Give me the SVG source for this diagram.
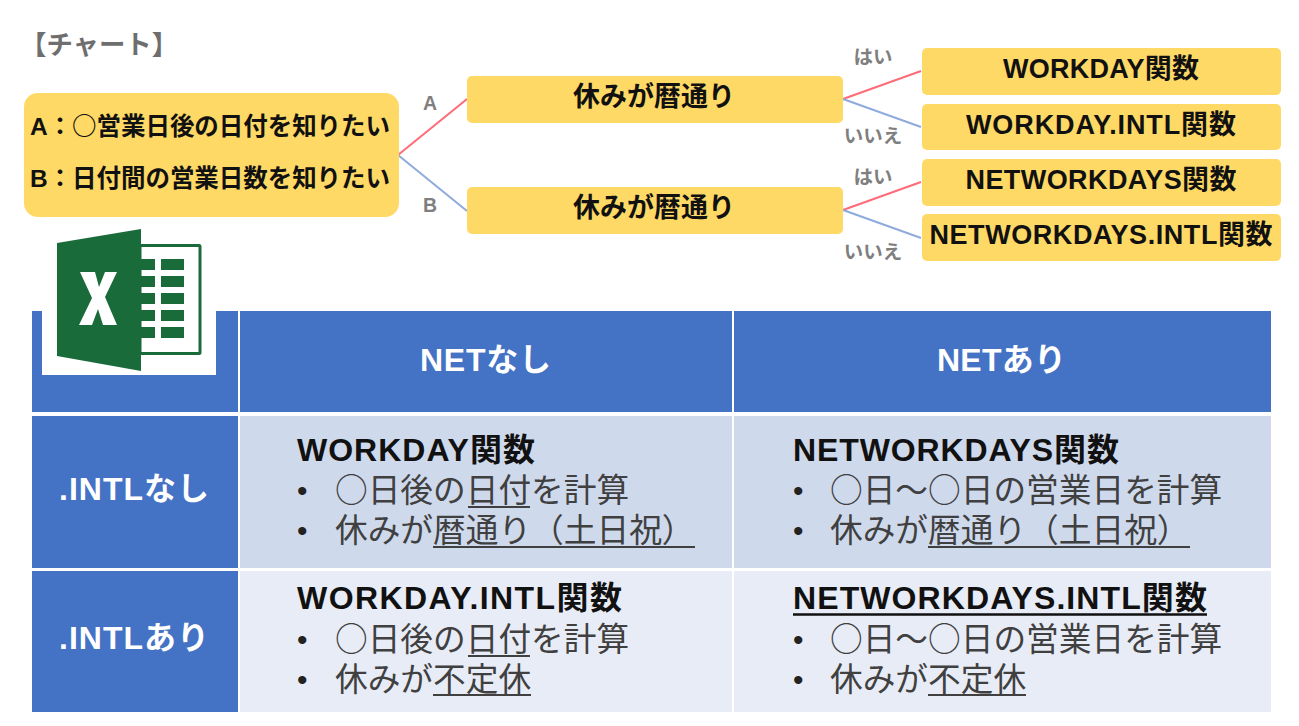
<svg xmlns="http://www.w3.org/2000/svg" width="1299" height="726" viewBox="0 0 1299 726">
<style>
text{font-family:"Liberation Sans","Noto Sans CJK JP",sans-serif;}
.j{font-family:"Noto Sans CJK JP",sans-serif;}
.b{fill:#ffd966;}
.t{font-weight:700;fill:#111;text-anchor:middle;font-size:27px;}
.g{font-weight:700;fill:#7f7f7f;font-size:19.500px;text-anchor:middle;}
.r{stroke:#ff6b78;stroke-width:2;fill:none;}
.u{stroke:#8faadc;stroke-width:2;fill:none;}
.h{fill:#4472c4;}
.ht{fill:#fff;font-weight:700;font-size:32px;}
.c1{fill:#cfd9ec;}
.c2{fill:#e8ecf6;}
.ct{fill:#111;font-weight:700;font-size:32px;}
.cl{fill:#404040;font-size:32.700px;font-family:"Noto Sans CJK JP",sans-serif;}
.d{fill:#222;font-size:30px;}
.ul{stroke:#404040;stroke-width:2;fill:none;}
.rt{font-size:24.500px;font-weight:700;fill:#111;}
</style>
<rect width="1299" height="726" fill="#fff"/>
<text id="title" class="j" x="20" y="54" font-size="26.400" font-weight="700" fill="#6e6e6e">【チャート】</text>
<g id="connectors">
<path class="r" d="M398 155L467 99"/><path class="u" d="M398 155L467 211"/>
<path class="r" d="M843 99L921 71"/><path class="u" d="M843 99L921 127"/>
<path class="r" d="M843 210L921 182"/><path class="u" d="M843 210L921 238"/>
</g>
<g id="label-a"><text class="g" x="430" y="110">A</text></g>
<g id="label-b"><text class="g" x="430" y="212">B</text></g>
<g id="label-yes1"><text class="g" x="873" y="64">はい</text></g>
<g id="label-no1"><text class="g" x="873" y="143">いいえ</text></g>
<g id="label-yes2"><text class="g" x="873" y="184">はい</text></g>
<g id="label-no2"><text class="g" x="873" y="259">いいえ</text></g>
<g id="root"><rect class="b" x="24" y="93" width="375" height="124" rx="14"/>
<text class="rt" x="30" y="135" textLength="360">A：<tspan class="j">○</tspan>営業日後の日付を知りたい</text>
<text class="rt" x="30" y="187" textLength="360">B：日付間の営業日数を知りたい</text></g>
<g id="n1"><rect class="b" x="467" y="76" width="376" height="47" rx="5"/><text class="t" x="654" y="106">休みが暦通り</text></g>
<g id="n2"><rect class="b" x="467" y="187" width="376" height="47" rx="5"/><text class="t" x="654" y="217">休みが暦通り</text></g>
<g id="f1"><rect class="b" x="922" y="48" width="359" height="47" rx="5"/><text class="t" x="1101" y="78" textLength="196">WORKDAY関数</text></g>
<g id="f2"><rect class="b" x="922" y="104" width="359" height="46" rx="5"/><text class="t" x="1101" y="134" textLength="270">WORKDAY.INTL関数</text></g>
<g id="f3"><rect class="b" x="922" y="159" width="359" height="47" rx="5"/><text class="t" x="1101" y="189" textLength="271">NETWORKDAYS関数</text></g>
<g id="f4"><rect class="b" x="922" y="214" width="359" height="47" rx="5"/><text class="t" x="1101" y="244" textLength="343">NETWORKDAYS.INTL関数</text></g>
<g id="table">
<rect class="h" x="32" y="311" width="206" height="101"/>
<rect class="h" x="240" y="311" width="492" height="101"/>
<rect class="h" x="734" y="311" width="537" height="101"/>
<rect class="h" x="32" y="416" width="206" height="152"/>
<rect class="h" x="32" y="571" width="206" height="141"/>
<rect class="c1" x="240" y="416" width="492" height="152"/>
<rect class="c1" x="734" y="416" width="537" height="152"/>
<rect class="c2" x="240" y="571" width="492" height="141"/>
<rect class="c2" x="734" y="571" width="537" height="141"/>
<text class="ht" x="420" y="371" textLength="131">NETなし</text>
<text class="ht" x="937" y="371" textLength="129">NETあり</text>
<text class="ht" x="59" y="500" textLength="150">.INTLなし</text>
<text class="ht" x="59" y="649" textLength="150">.INTLあり</text>
<text class="ct" x="297" y="461" textLength="238">WORKDAY関数</text>
<text class="d" x="297" y="501">•</text><text class="cl" x="335" y="502">○日後の日付を計算</text>
<text class="d" x="297" y="541">•</text><text class="cl" x="335" y="542">休みが暦通り（土日祝）</text>
<path class="ul" d="M468 507H530M433 547H695"/>
<text class="ct" x="793" y="461" textLength="326">NETWORKDAYS関数</text>
<text class="d" x="793" y="501">•</text><text class="cl" x="830" y="502">○日～○日の営業日を計算</text>
<text class="d" x="793" y="541">•</text><text class="cl" x="830" y="542">休みが暦通り（土日祝）</text>
<path class="ul" d="M928 547H1190"/>
<text class="ct" x="297" y="609" textLength="325">WORKDAY.INTL関数</text>
<text class="d" x="297" y="650">•</text><text class="cl" x="335" y="651">○日後の日付を計算</text>
<text class="d" x="297" y="690">•</text><text class="cl" x="335" y="691">休みが不定休</text>
<path class="ul" d="M468 656H530M433 695H531"/>
<text class="ct" x="793" y="609" textLength="414">NETWORKDAYS.INTL関数</text>
<path d="M793 614.500H1207" stroke="#111" stroke-width="2.500" fill="none"/>
<text class="d" x="793" y="650">•</text><text class="cl" x="830" y="651">○日～○日の営業日を計算</text>
<text class="d" x="793" y="690">•</text><text class="cl" x="830" y="691">休みが不定休</text>
<path class="ul" d="M928 695H1026"/>
</g>
<g id="excel-icon">
<rect x="42" y="300" width="174" height="75" fill="#fff"/>
<rect x="140" y="245.500" width="60" height="108" rx="1" fill="#fff" stroke="#1a6b3a" stroke-width="3"/>
<path fill="#1a6b3a" d="M141 259h14v11h-14zM161 259h23v11h-23zM141 276h14v11h-14zM161 276h23v11h-23zM141 293h14v11h-14zM161 293h23v11h-23zM141 310h14v11h-14zM161 310h23v11h-23zM141 327h14v11h-14zM161 327h23v11h-23z"/>
<path fill="#1a6b3a" d="M57 243L141 229V371L57 356Z"/>
<path fill="#fff" d="M80 272H95L99 287L105 272H117L105 297L117 325H103L98 309L92 325H79L92 298Z"/>
</g>
</svg>
